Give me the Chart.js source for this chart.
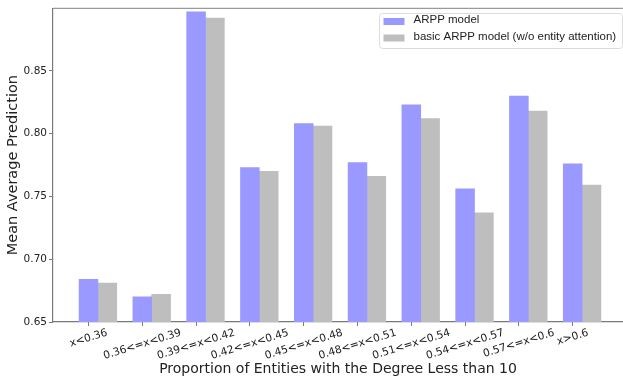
<!DOCTYPE html>
<html>
<head>
<meta charset="utf-8">
<script src="https://cdn.jsdelivr.net/npm/chart.js@4.4.1/dist/chart.umd.min.js"></script>
<style>
  html, body { margin: 0; padding: 0; background: #ffffff; }
  #wrap { width: 623px; height: 380px; }
</style>
</head>
<body>
<div id="wrap"><canvas id="c" width="623" height="380"></canvas></div>
<script>
const categories = ["x<0.36", "0.36<=x<0.39", "0.39<=x<0.42", "0.42<=x<0.45", "0.45<=x<0.48",
                    "0.48<=x<0.51", "0.51<=x<0.54", "0.54<=x<0.57", "0.57<=x<0.6", "x>0.6"];
const arppModel = [0.684, 0.670, 0.897, 0.773, 0.808, 0.777, 0.823, 0.756, 0.830, 0.776];
const basicArppModel = [0.681, 0.672, 0.892, 0.770, 0.806, 0.766, 0.812, 0.737, 0.818, 0.759];
const yTicks = [0.65, 0.70, 0.75, 0.80, 0.85];
const seriesNames = ["ARPP model", "basic ARPP model (w/o entity attention)"];

const BAR_W = 0.35;
const AXIS_FONT = "'DejaVu Sans', sans-serif";
const TEXT_COLOR = '#222222';
const FRAME_COLOR = '#7a7a7a';

const customDraw = {
  id: 'customDraw',
  afterDraw(chart) {
    const ctx = chart.ctx;
    const area = chart.chartArea;
    const xs = chart.scales.x;
    ctx.save();
    // top spine
    ctx.strokeStyle = '#9a9a9a';
    ctx.lineWidth = 1.2;
    ctx.beginPath();
    ctx.moveTo(area.left, area.top);
    ctx.lineTo(area.right, area.top);
    ctx.stroke();

    // rotated x tick labels, centered on tick (matplotlib style)
    const theta = 17 * Math.PI / 180;
    const fs = 10.7;
    ctx.font = fs + "px " + AXIS_FONT;
    ctx.fillStyle = TEXT_COLOR;
    ctx.textAlign = 'center';
    ctx.textBaseline = 'middle';
    const top = area.bottom + 5.5;
    categories.forEach((lab, i) => {
      const px = xs.getPixelForValue(i);
      const w = ctx.measureText(lab).width;
      const bh = w * Math.sin(theta) + fs * Math.cos(theta);
      const cy = top + bh / 2;
      ctx.save();
      ctx.translate(px, cy);
      ctx.rotate(-theta);
      ctx.fillText(lab, 0, 0);
      ctx.restore();
    });

    // legend
    const lx = 379.5, ly = 13.5, lw = 243, lh = 35;
    ctx.beginPath();
    if (ctx.roundRect) ctx.roundRect(lx, ly, lw, lh, 3); else ctx.rect(lx, ly, lw, lh);
    ctx.fillStyle = 'rgba(255,255,255,0.85)';
    ctx.fill();
    ctx.strokeStyle = '#dcdcdc';
    ctx.lineWidth = 1;
    ctx.stroke();
    ctx.font = "11.5px 'Liberation Sans', Arial, sans-serif";
    ctx.textAlign = 'left';
    const rows = [20, 36.5];
    chart.data.datasets.forEach((ds, k) => {
      ctx.fillStyle = ds.backgroundColor;
      ctx.fillRect(383.5, rows[k] - 2, 21, 7);
      ctx.fillStyle = TEXT_COLOR;
      ctx.fillText(ds.label, 413.5, rows[k]);
    });
    ctx.restore();
  }
};

new Chart(document.getElementById('c'), {
  type: 'bar',
  data: {
    datasets: [
      {
        label: seriesNames[0],
        data: arppModel.map((v, i) => ({ x: i, y: v })),
        backgroundColor: '#9999ff',
        borderWidth: 0,
        grouped: false,
        barPercentage: 1,
        categoryPercentage: 1
      },
      {
        label: seriesNames[1],
        data: basicArppModel.map((v, i) => ({ x: i + BAR_W, y: v })),
        backgroundColor: '#bebebe',
        borderWidth: 0,
        grouped: false,
        barPercentage: 1,
        categoryPercentage: 1
      }
    ]
  },
  options: {
    responsive: false,
    animation: false,
    layout: { padding: 0 },
    plugins: { legend: { display: false }, tooltip: { enabled: false }, title: { display: false } },
    scales: {
      x: {
        type: 'linear',
        offset: false,
        min: -0.66,
        max: 9.935,
        afterBuildTicks: s => { s.ticks = categories.map((_, i) => ({ value: i })); },
        afterFit: s => { s.height = 58; },
        ticks: { display: false },
        grid: { offset: false, drawOnChartArea: false, drawTicks: true, tickLength: 4, color: FRAME_COLOR, tickColor: FRAME_COLOR },
        border: { display: true, color: FRAME_COLOR, width: 1.2 },
        title: {
          display: true,
          text: 'Proportion of Entities with the Degree Less than 10',
          color: TEXT_COLOR,
          font: { family: AXIS_FONT, size: 14 },
          padding: { top: 0, bottom: 2.2 }
        }
      },
      y: {
        min: 0.65,
        max: 0.8998,
        afterBuildTicks: s => { s.ticks = yTicks.map(v => ({ value: v })); },
        afterFit: s => { s.width = 53; },
        ticks: {
          color: TEXT_COLOR,
          font: { family: AXIS_FONT, size: 10.5 },
          padding: 2,
          callback: v => Number(v).toFixed(2)
        },
        grid: { drawOnChartArea: false, drawTicks: true, tickLength: 4, color: FRAME_COLOR, tickColor: FRAME_COLOR },
        border: { display: true, color: FRAME_COLOR, width: 1.2 },
        title: {
          display: true,
          text: 'Mean Average Prediction',
          color: TEXT_COLOR,
          font: { family: AXIS_FONT, size: 14.5 },
          padding: { top: 4.6, bottom: 0 }
        }
      }
    }
  },
  plugins: [customDraw]
});
</script>
</body>
</html>
